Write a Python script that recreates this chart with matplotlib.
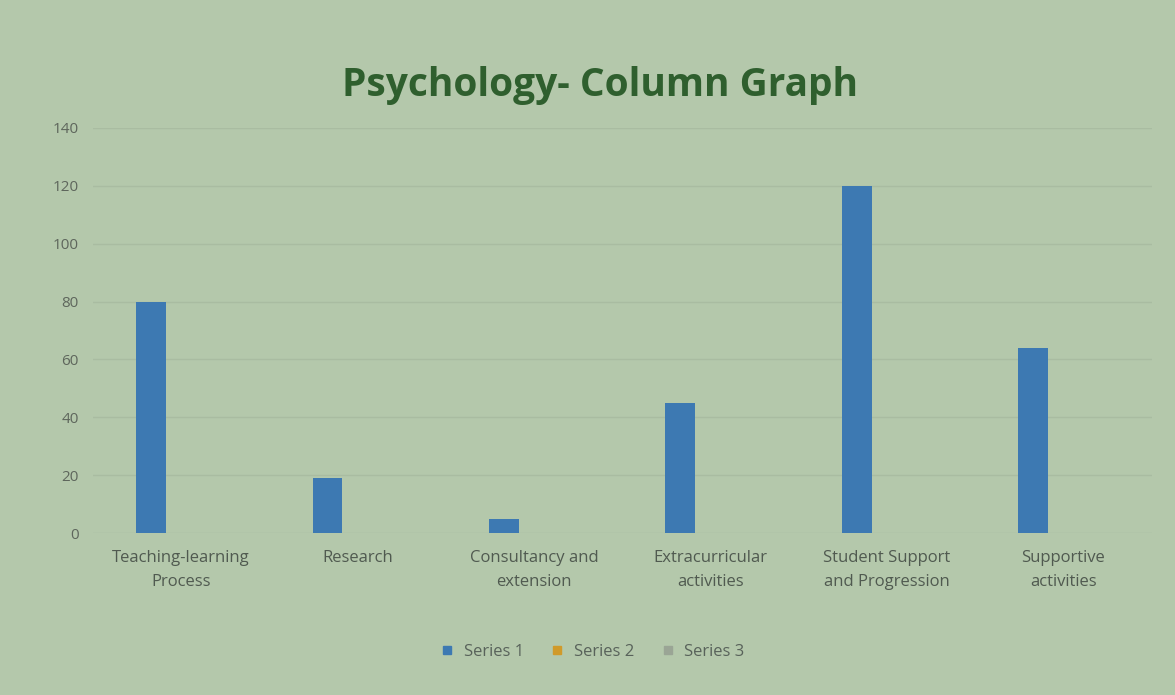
import numpy as np
import matplotlib.pyplot as plt

plt.rcParams['font.family'] = ['Open Sans', 'DejaVu Sans']

categories = ['Teaching-learning\nProcess', 'Research', 'Consultancy and\nextension',
              'Extracurricular\nactivities', 'Student Support\nand Progression', 'Supportive\nactivities']
series1 = [80, 19, 5, 45, 120, 64]
series2 = [0, 0, 0, 0, 0, 0]
series3 = [0, 0, 0, 0, 0, 0]
yticks = [0, 20, 40, 60, 80, 100, 120, 140]

bg = '#b4c8ab'
fig = plt.figure(figsize=(11.75, 6.95), dpi=100, facecolor=bg)
ax = fig.add_axes([0.079, 0.233, 0.901, 0.583], facecolor=bg)

x = np.arange(len(categories))
w = 0.17
ax.bar(x - w, series1, w, color='#3d79b2', label='Series 1')
ax.bar(x, series2, w, color='#d09a2a', label='Series 2')
ax.bar(x + w, series3, w, color='#9aa595', label='Series 3')

ax.set_xlim(-0.5, len(categories) - 0.5)
ax.set_ylim(0, 140)
ax.set_yticks(yticks)
ax.set_xticks(x)
ax.set_xticklabels(categories, fontsize=12, color='#505a50', linespacing=1.7)
ax.tick_params(axis='y', labelsize=11, colors='#5e665c', length=0, pad=10)
ax.tick_params(axis='x', length=0, pad=12)
ax.grid(axis='y', color='#a9bca1', linewidth=1)
ax.set_axisbelow(True)
for s in ax.spines.values():
    s.set_visible(False)

fig.suptitle('Psychology- Column Graph', fontsize=28, fontweight='bold',
             color='#2f5f2e', x=0.511, y=0.905)

handles = [plt.Line2D([], [], marker='s', linestyle='', markersize=6, color=c)
           for c in ['#3d79b2', '#d09a2a', '#9aa595']]
fig.legend(handles, ['Series 1', 'Series 2', 'Series 3'], loc='center',
           bbox_to_anchor=(0.5, 0.062), ncol=3, frameon=False, fontsize=12,
           handletextpad=0.0, columnspacing=1.0, labelcolor='#58625a')

fig.savefig('out.png', dpi=100, facecolor=bg)
